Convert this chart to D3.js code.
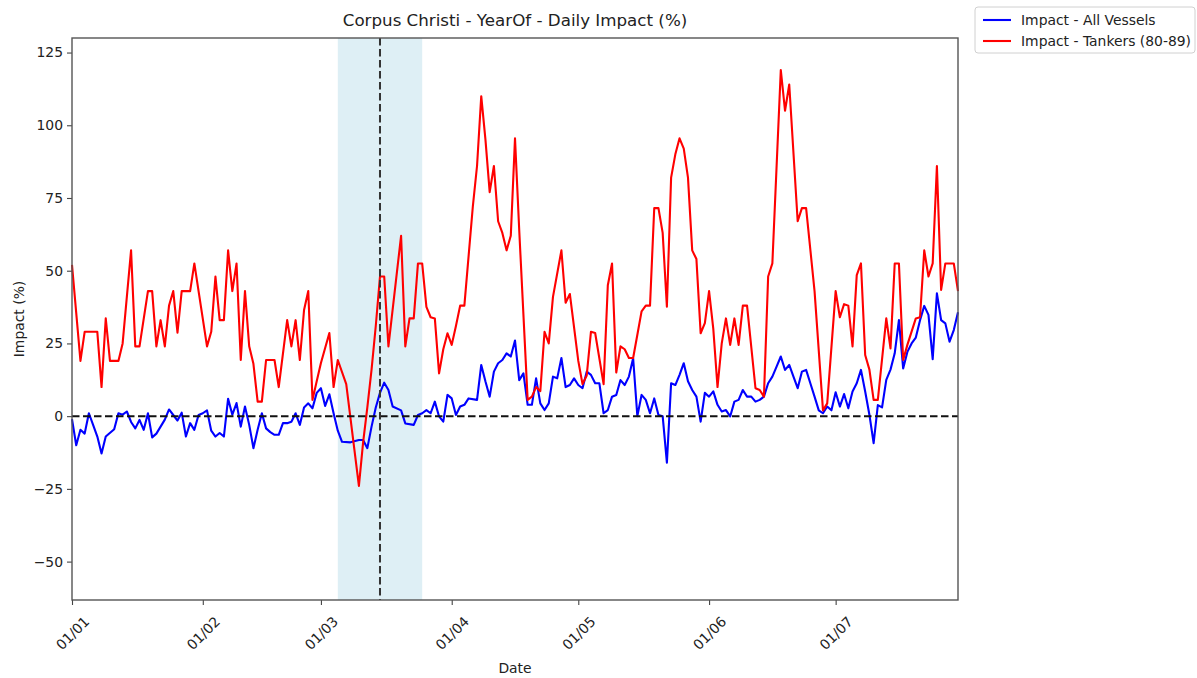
<!DOCTYPE html>
<html>
<head>
<meta charset="utf-8">
<script src="https://cdn.jsdelivr.net/npm/d3@7"></script>
<style>
  body { margin: 0; background: #fff; }
  text { font-family: "DejaVu Sans", sans-serif; fill: #222; }
</style>
</head>
<body>
<svg id="chart" width="1197" height="678"></svg>
<script>
// days are counted from 1 January
const startDate = new Date(2023, 0, 1);
const lastDay = 210;

const allVesselsDay = [0,1,2,3,4,5,6,7,8,10,11,12,13,14,15,16,17,18,19,20,21,22,23,24,25,26,27,28,29,30,
  31,32,33,34,35,36,37,38,39,40,41,42,43,44,45,46,47,48,49,50,51,52,53,54,55,56,57,58,59,60,
  61,62,63,64,66,68,69,70,71,72,73,74,75,76,78,79,81,82,83,84,85,86,87,88,89,90,
  91,92,93,94,96,97,98,99,100,101,102,103,104,105,106,107,108,109,110,111,112,113,114,115,116,117,118,119,120,
  121,122,123,124,125,126,127,128,129,130,131,132,133,134,135,136,137,138,139,140,141,142,143,144,145,146,147,148,149,150,
  151,152,153,154,155,156,157,158,159,160,161,162,163,164,165,166,167,168,169,170,171,172,173,174,175,176,177,178,179,180,
  181,182,183,184,185,186,187,188,189,190,191,192,193,194,195,196,197,198,199,200,201,202,203,204,205,206,207,208,209,210];
const allVesselsImpact = [-1,-10,-4.7,-6,1,-3,-7,-12.8,-7,-4.5,1,0.5,1.6,-2,-4.2,-1.3,-4.7,1,-7.3,-6,-3.6,-1.2,2.3,0.4,-1.5,1.2,-7,-2.4,-4.7,0.4,
  1,2,-5,-7,-5.8,-7,6,0.5,4.5,-3.6,3.3,-3,-11,-4.7,1,-4.2,-5.5,-6.4,-6.4,-2.4,-2.4,-1.9,1,-3,3,4.4,2.7,8,9.6,3.5,
  7.5,1,-5,-8.8,-9,-8.2,-8.2,-11,-3.6,3,8,11.5,9,3.3,2,-2.5,-3,0.4,1,2.1,1,5,-0.1,-1.9,7.3,6.1,
  0.4,3.3,3.9,6.1,5.6,17.6,11.9,6.7,15.3,18.2,19.3,21.6,20.5,26,12.4,14.7,3.9,3.9,13,4.4,2.1,4.4,13.6,13,20,10,10.7,13,10.7,
  9.6,15.3,14.2,11.3,11.3,1,2.1,6.7,7.3,12.4,10.7,13.6,19.9,0,7.3,5.6,1,6.1,0.4,0,-16,11.3,10.7,14.2,18.2,12,9,6.7,-1.9,8,
  6.7,8.5,3.9,1.6,2.1,-0.1,5,5.6,9,6.7,6.7,5,5.6,6.7,11.3,13.6,17,20.5,15.9,17.6,13.6,9.6,15.3,15.9,11.3,6.7,2,1,3.3,2,
  8.2,3.3,7.6,2.7,8.5,11.3,15.9,8.5,0.5,-9.3,3.8,3,12.5,16,21.6,33,16.4,22.1,25,27,33,37.9,34.8,19.6,42.2,33,31.9,25.6,29.6,35.7];

const tankersDay = [0,2,3,6,7,8,9,11,12,14,15,16,18,19,20,21,22,23,24,25,26,28,29,30,32,33,34,35,36,37,38,39,40,
  41,42,43,44,45,46,48,49,51,52,53,54,55,56,57,58,59,61,62,63,65,68,69,70,71,72,73,74,75,78,79,80,
  81,82,83,84,85,86,87,88,89,90,91,92,93,95,96,97,98,99,100,101,102,103,104,105,106,108,109,110,
  111,112,113,114,116,117,118,120,121,122,123,124,126,127,128,129,130,131,132,133,134,135,136,137,138,139,140,
  141,142,143,144,145,146,147,148,149,150,151,152,153,154,155,156,157,158,159,160,162,163,164,165,166,168,169,170,
  172,173,174,176,178,179,181,182,183,184,185,186,187,188,189,190,191,193,194,195,196,197,198,200,
  201,202,203,204,205,206,207,209,210];
const tankersImpact = [52,19,29,29,10,33.6,19,19,25,57,24,24,43,43,24,33,24,38,43,28.7,43,43,52.5,43,24,29,48,33,33,57,43,52.5,19.3,
  43,24,18,5,5,19.3,19.3,10,33,24,33,19.3,36.5,43,5.6,12,18.3,28.6,10,19.3,11,-24,-9,3,16,31,48,48,24,62,24,33.6,
  33.6,52.5,52.5,37.6,34,33.6,14.7,23,28.5,24.5,31,38,38,72,86,110,95,77,86,67,63,57,62,95.5,64,5.6,6.7,10,
  8.6,29,25,41,57,39,42,19,11,14,29,28.6,11,45,52.5,15,24,23,20,20,28,36,38,38,71.5,71.5,63,
  37.6,82,90,95.5,92,82,57,54,28.5,32,43,30,10,25,33.6,24.5,33.6,24.5,38,38,9.6,9,6.7,48,52.5,119,105,114,
  67,71.5,71.5,43,2,4.4,43,34,38.5,38,24,48.5,52.5,21,16,5.6,5.6,33.6,23.3,52.5,52.5,19.3,24.5,33.6,
  34,57,48,52.5,86,43.4,52.5,52.5,43];

const eventDay = 73;
const windowDays = [63, 83];
const yTicks = [-50, -25, 0, 25, 50, 75, 100, 125];
const monthStarts = [0, 1, 2, 3, 4, 5, 6];
const seriesNames = ["Impact - All Vessels", "Impact - Tankers (80-89)"];
const seriesColors = ["#0000ff", "#ff0000"];

const margin = { top: 38, right: 239, bottom: 78, left: 72 };
const width = 1197 - margin.left - margin.right;
const height = 678 - margin.top - margin.bottom;

const toDate = d => d3.timeDay.offset(startDate, d);

const svg = d3.select("#chart");
const g = svg.append("g").attr("transform", `translate(${margin.left},${margin.top})`);

const x = d3.scaleTime()
  .domain([startDate, toDate(lastDay)])
  .range([0, width]);

const y = d3.scaleLinear()
  .domain([-63.2, 130])
  .range([height, 0]);

// shaded window and data lines
g.append("rect")
  .attr("x", x(toDate(windowDays[0])))
  .attr("y", 0)
  .attr("width", x(toDate(windowDays[1])) - x(toDate(windowDays[0])))
  .attr("height", height)
  .attr("fill", "lightblue")
  .attr("opacity", 0.4);

const line = d3.line()
  .x(d => x(toDate(d[0])))
  .y(d => y(d[1]));

const series = [
  d3.zip(allVesselsDay, allVesselsImpact),
  d3.zip(tankersDay, tankersImpact)
];

series.forEach((s, i) => {
  g.append("path")
    .datum(s)
    .attr("fill", "none")
    .attr("stroke", seriesColors[i])
    .attr("stroke-width", 2.1)
    .attr("stroke-linejoin", "round")
    .attr("d", line);
});

// zero line and event line
g.append("line")
  .attr("x1", 0).attr("x2", width)
  .attr("y1", y(0)).attr("y2", y(0))
  .attr("stroke", "#111")
  .attr("stroke-width", 2)
  .attr("stroke-dasharray", "7.5,3.5");

g.append("line")
  .attr("x1", x(toDate(eventDay))).attr("x2", x(toDate(eventDay)))
  .attr("y1", 0).attr("y2", height)
  .attr("stroke", "#333")
  .attr("stroke-width", 2)
  .attr("stroke-dasharray", "7.5,3.5");

// axes
const xAxis = g.append("g")
  .attr("transform", `translate(0,${height})`)
  .call(d3.axisBottom(x)
    .tickValues(monthStarts.map(m => new Date(2023, m, 1)))
    .tickFormat(d3.timeFormat("%d/%m"))
    .tickSize(5)
    .tickPadding(0));
xAxis.select(".domain").remove();
xAxis.selectAll(".tick line").attr("stroke", "#444").attr("stroke-width", 1.1);
xAxis.selectAll(".tick text")
  .attr("font-size", "13.9px")
  .attr("text-anchor", "middle")
  .attr("dominant-baseline", "central")
  .attr("y", 0)
  .attr("dy", null)
  .attr("transform", "translate(0,33) rotate(-45)");

const yAxis = g.append("g")
  .call(d3.axisLeft(y)
    .tickValues(yTicks)
    .tickFormat(d3.format("d"))
    .tickSize(5)
    .tickPadding(4));
yAxis.select(".domain").remove();
yAxis.selectAll(".tick line").attr("stroke", "#444").attr("stroke-width", 1.1);
yAxis.selectAll(".tick text").attr("font-size", "13.9px");

// frame
g.append("rect")
  .attr("width", width)
  .attr("height", height)
  .attr("fill", "none")
  .attr("stroke", "#555")
  .attr("stroke-width", 1.4);

// titles
svg.append("text")
  .attr("x", margin.left + width / 2)
  .attr("y", 20)
  .attr("text-anchor", "middle")
  .attr("dominant-baseline", "central")
  .attr("font-size", "16.7px")
  .text("Corpus Christi - YearOf - Daily Impact (%)");

svg.append("text")
  .attr("x", margin.left + width / 2)
  .attr("y", 668)
  .attr("text-anchor", "middle")
  .attr("dominant-baseline", "central")
  .attr("font-size", "13.9px")
  .text("Date");

svg.append("text")
  .attr("transform", `translate(19,${margin.top + height / 2}) rotate(-90)`)
  .attr("text-anchor", "middle")
  .attr("dominant-baseline", "central")
  .attr("font-size", "13.9px")
  .text("Impact (%)");

// legend
const legend = svg.append("g").attr("transform", "translate(975,7)");
legend.append("rect")
  .attr("width", 220)
  .attr("height", 46)
  .attr("rx", 3)
  .attr("fill", "#fff")
  .attr("stroke", "#d0d0d0");

seriesNames.forEach((name, i) => {
  const row = legend.append("g").attr("transform", `translate(0,${13 + i * 21})`);
  row.append("line")
    .attr("x1", 8).attr("x2", 36)
    .attr("stroke", seriesColors[i])
    .attr("stroke-width", 2.1);
  row.append("text")
    .attr("x", 46)
    .attr("dominant-baseline", "central")
    .attr("font-size", "13.9px")
    .text(name);
});
</script>
</body>
</html>
